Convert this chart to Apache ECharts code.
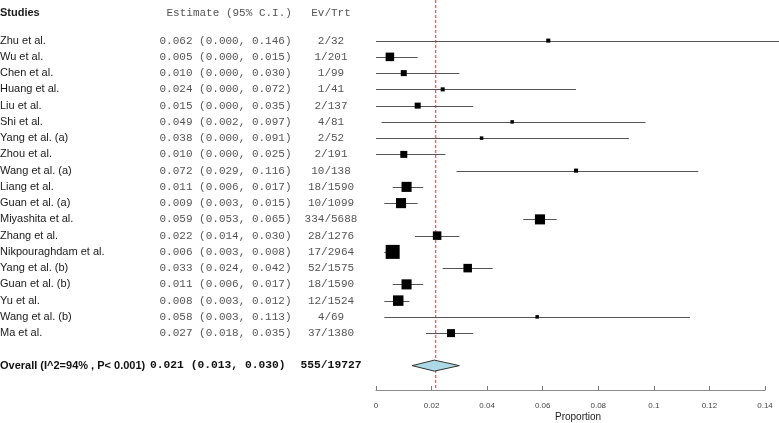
<!DOCTYPE html>
<html>
<head>
<meta charset="utf-8">
<script src="https://cdn.jsdelivr.net/npm/echarts@6/dist/echarts.min.js"></script>
<style>
html,body{margin:0;padding:0;background:#fff;}
#chart{width:779px;height:423px;}
</style>
</head>
<body>
<div id="chart"></div>
<script>
// ---- data ----
var studies = ["Zhu et al.","Wu et al.","Chen et al.","Huang et al.","Liu et al.","Shi et al.","Yang et al. (a)","Zhou et al.","Wang et al. (a)","Liang et al.","Guan et al. (a)","Miyashita et al.","Zhang et al.","Nikpouraghdam et al.","Yang et al. (b)","Guan et al. (b)","Yu et al.","Wang et al. (b)","Ma et al."];
var estimates = [0.062,0.005,0.010,0.024,0.015,0.049,0.038,0.010,0.072,0.011,0.009,0.059,0.022,0.006,0.033,0.011,0.008,0.058,0.027];
var lower = [0.000,0.000,0.000,0.000,0.000,0.002,0.000,0.000,0.029,0.006,0.003,0.053,0.014,0.003,0.024,0.006,0.003,0.003,0.018];
var upper = [0.146,0.015,0.030,0.072,0.035,0.097,0.091,0.025,0.116,0.017,0.015,0.065,0.030,0.008,0.042,0.017,0.012,0.113,0.035];
var events = [2,1,1,1,2,4,2,2,10,18,10,334,28,17,52,18,12,4,37];
var totals = [32,201,99,41,137,81,52,191,138,1590,1099,5688,1276,2964,1575,1590,1524,69,1380];
var weights = [2.9,6.1,4.3,2.9,4.3,2.5,2.5,5.0,2.9,7.2,7.2,7.2,6.1,10.0,6.1,7.2,7.5,2.5,5.7]; // relative weights (%)
var overallLabel = "Overall (I^2=94% , P< 0.001)";
var overall = {est: 0.021, lo: 0.013, hi: 0.030, events: 555, total: 19727};
var refLine = 0.0215;
var xTicks = [0, 0.02, 0.04, 0.06, 0.08, 0.1, 0.12, 0.14];
var headers = ["Studies", "Estimate (95% C.I.)", "Ev/Trt"];

// ---- layout ----
var SANS = "'Liberation Sans', Arial, sans-serif";
var MONO = "'Liberation Mono', 'Courier New', monospace";
var colName = 0, colEst = 159.5, colEv = 331, colEstHead = 166.5, colEstOverall = 150;
var overallRow = studies.length + 1;
var headerRow = -1.7;
var sizeScale = 1.4;

function fmt(e, l, h){ return e.toFixed(3) + " (" + l.toFixed(3) + ", " + h.toFixed(3) + ")"; }

var chart = echarts.init(document.getElementById('chart'), null, {renderer:'canvas'});

var tableRows = studies.map(function(s, i){ return [0, i]; });

function textEl(api, x, row, txt, align, font, fill){
  var p = api.coord([x, row]);
  return {type:'text', x: p[0], y: p[1], style:{text: txt, align: align, verticalAlign:'middle', textAlign: align, textVerticalAlign:'middle', font: font, fill: fill}};
}

var option = {
  animation: false,
  backgroundColor: '#fff',
  grid: [
    {left: 0, width: 376, top: 0, bottom: 33},
    {left: 376, right: 14, top: 0, bottom: 33}
  ],
  xAxis: [
    {gridIndex: 0, type: 'value', min: 0, max: 376, show: false},
    {gridIndex: 1, type: 'value', min: 0, max: 0.14, interval: 0.02, position: 'bottom',
     axisLine: {show: true, onZero: false, lineStyle: {color: '#8a8a8a', width: 1}},
     axisTick: {show: true, inside: true, length: 4, lineStyle: {color: '#777'}},
     axisLabel: {show: true, margin: 12, fontSize: 8, fontFamily: SANS, color: '#444',
       formatter: function(v){ var r = xTicks.filter(function(t){return Math.abs(t-v)<1e-9;}); return r.length ? String(+r[0].toFixed(2)) : ''; }},
     splitLine: {show: false}}
  ],
  yAxis: [
    {gridIndex: 0, type: 'value', min: -2.5, max: 21.5, inverse: true, show: false},
    {gridIndex: 1, type: 'value', min: -2.5, max: 21.5, inverse: true, show: false}
  ],
  graphic: [
    {type: 'text', left: 555, top: 412, style: {text: 'Proportion', font: '10px ' + SANS, fill: '#222'}}
  ],
  series: [
    // table text
    {
      type: 'custom', xAxisIndex: 0, yAxisIndex: 0, silent: true,
      data: tableRows,
      renderItem: function(params, api){
        var i = params.dataIndex;
        var children = [
          textEl(api, colName, i, studies[i], 'left', '11px ' + SANS, '#1a1a1a'),
          textEl(api, colEst, i, fmt(estimates[i], lower[i], upper[i]), 'left', '11px ' + MONO, '#555'),
          textEl(api, colEv, i, events[i] + '/' + totals[i], 'center', '11px ' + MONO, '#555')
        ];
        if (i === 0) {
          children.push(textEl(api, colName, headerRow, headers[0], 'left', 'bold 11px ' + SANS, '#1a1a1a'));
          children.push(textEl(api, colEstHead, headerRow, headers[1], 'left', '11px ' + MONO, '#555'));
          children.push(textEl(api, colEv, headerRow, headers[2], 'center', '11px ' + MONO, '#555'));
          children.push(textEl(api, colName, overallRow, overallLabel, 'left', 'bold 11px ' + SANS, '#111'));
          children.push(textEl(api, colEstOverall, overallRow, fmt(overall.est, overall.lo, overall.hi), 'left', 'bold 11.3px ' + MONO, '#111'));
          children.push(textEl(api, colEv, overallRow, overall.events + '/' + overall.total, 'center', 'bold 11.3px ' + MONO, '#111'));
        }
        return {type: 'group', children: children};
      }
    },
    // reference line
    {
      type: 'line', xAxisIndex: 1, yAxisIndex: 1, silent: true, symbol: 'none',
      data: [[refLine, -2.5], [refLine, 21.4]],
      lineStyle: {color: '#d03a3a', width: 1, type: [3, 2]}, z: 1
    },
    // study CIs and boxes
    {
      type: 'custom', xAxisIndex: 1, yAxisIndex: 1, silent: true, clip: false, z: 3,
      data: estimates.map(function(e, i){ return [e, i, lower[i], upper[i], weights[i]]; }),
      encode: {x: 0, y: 1},
      renderItem: function(params, api){
        var row = api.value(1);
        var pe = api.coord([api.value(0), row]);
        var pl = api.coord([api.value(2), row]);
        var ph = api.coord([api.value(3), row]);
        var s = api.value(4) * sizeScale;
        var y = Math.round(pe[1]) + 0.5;
        return {type: 'group', children: [
          {type: 'line', shape: {x1: pl[0], y1: y, x2: ph[0], y2: y}, style: {stroke: '#555', lineWidth: 1}},
          {type: 'rect', shape: {x: pe[0] - s/2, y: pe[1] - s/2, width: s, height: s}, style: {fill: '#000'}}
        ]};
      }
    },
    // overall diamond
    {
      type: 'custom', xAxisIndex: 1, yAxisIndex: 1, silent: true, z: 3,
      data: [[overall.est, overallRow, overall.lo, overall.hi]],
      encode: {x: 0, y: 1},
      renderItem: function(params, api){
        var row = api.value(1);
        var pe = api.coord([api.value(0), row]);
        var pl = api.coord([api.value(2), row]);
        var ph = api.coord([api.value(3), row]);
        var h = 5.5;
        return {type: 'polygon', shape: {points: [[pl[0], pe[1]], [pe[0], pe[1] - h], [ph[0], pe[1]], [pe[0], pe[1] + h]]},
          style: {fill: '#add8e6', stroke: '#333', lineWidth: 1}};
      }
    }
  ]
};
chart.setOption(option);
</script>
</body>
</html>
